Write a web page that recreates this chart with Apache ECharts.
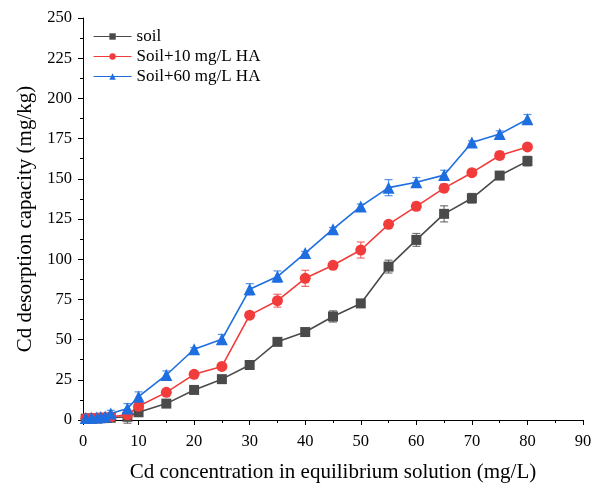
<!DOCTYPE html>
<html><head><meta charset="utf-8">
<script src="https://cdn.jsdelivr.net/npm/echarts@6/dist/echarts.min.js"></script>
<style>html,body{margin:0;padding:0;background:#fff}#c{width:598px;height:484px}</style>
</head><body><div id="c"></div>
<script>
var xValues = [0.5, 1.5, 2.5, 3.2, 4, 5, 8, 10, 15, 20, 25, 30, 35, 40, 45, 50, 55, 60, 65, 70, 75, 80];
var soil    = [0.8, 0.9, 1.0, 1.1, 1.2, 1.4, 2.0, 4.8, 10.2, 18.7, 25.4, 34.2, 48.6, 54.7, 64.4, 72.5, 95.4, 112, 128.2, 137.9, 152, 161];
var soilErr = [0.5, 0.5, 0.5, 0.5, 0.5, 0.5, 4, 1.5, 1, 1, 2, 1, 1, 1.5, 3.5, 1, 4, 4, 5, 3, 1, 3];
var ha10    = [1.0, 1.1, 1.3, 1.4, 1.6, 2.0, 3.2, 8.5, 17.2, 28.4, 33.3, 65.2, 74.2, 88.1, 96.2, 105.7, 121.7, 132.9, 144.2, 153.8, 164.5, 169.8];
var ha10Err = [0.5, 0.5, 0.5, 0.5, 0.5, 0.5, 2, 2, 1, 1, 1, 2, 4, 5, 1, 5, 1, 2.5, 2.5, 1, 2.5, 1.5];
var ha60    = [1.2, 1.4, 1.6, 1.8, 2.2, 4.0, 7.2, 14.5, 28, 44, 50.2, 81.3, 89.2, 103.8, 118.7, 132.8, 144.5, 147.8, 152.3, 172.6, 177.8, 187];
var ha60Err = [0.5, 0.5, 0.5, 0.5, 0.5, 2, 3, 3, 2.5, 1, 3, 3.5, 3.5, 1, 1, 1.5, 5, 3, 3, 1, 2, 3];
var seriesNames = ['soil', 'Soil+10 mg/L HA', 'Soil+60 mg/L HA'];
var xTitle = 'Cd concentration in equilibrium solution (mg/L)';
var yTitle = 'Cd desorption capacity (mg/kg)';

var colors = ['#4a4a4a', '#f23c3c', '#1e6ee0'];
var symbols = ['rect', 'circle', 'triangle'];
var symbolSizes = [10, 11, 12];
var ys = [soil, ha10, ha60];
var errs = [soilErr, ha10Err, ha60Err];
var FONT = 'Liberation Serif';

function pts(y){ return xValues.map(function(x,i){ return [x, y[i]]; }); }
function errData(y,e){ return xValues.map(function(x,i){ return [x, y[i]-e[i], y[i]+e[i]]; }); }

function errRender(color){
  return function(params, api){
    var x = api.value(0);
    var lo = api.coord([x, api.value(1)]);
    var hi = api.coord([x, api.value(2)]);
    var w = 4;
    var st = {stroke: color, lineWidth: 1.2, opacity: 0.75};
    return {type:'group', children:[
      {type:'line', shape:{x1:lo[0], y1:lo[1], x2:hi[0], y2:hi[1]}, style:st},
      {type:'line', shape:{x1:lo[0]-w, y1:lo[1], x2:lo[0]+w, y2:lo[1]}, style:st},
      {type:'line', shape:{x1:hi[0]-w, y1:hi[1], x2:hi[0]+w, y2:hi[1]}, style:st}
    ]};
  };
}

var series = [];
for (var k=0;k<3;k++){
  series.push({
    type:'custom', name: seriesNames[k] + ' err', renderItem: errRender(colors[k]),
    data: errData(ys[k], errs[k]), encode:{x:0, y:[1,2]}, z: 1, silent:true
  });
  series.push({
    type:'line', name: seriesNames[k], data: pts(ys[k]),
    symbol: symbols[k], symbolSize: symbolSizes[k],
    lineStyle:{color: colors[k], width:1.6},
    itemStyle:{color: colors[k]}, z: 3
  });
}

function axisCommon(margin){
  return {
    axisLine:{show:true, lineStyle:{color:'#000', width:1}},
    axisTick:{show:true, inside:false, length:5, lineStyle:{color:'#000'}},
    minorTick:{show:true, splitNumber:2, length:3, lineStyle:{color:'#000'}},
    splitLine:{show:false},
    axisLabel:{color:'#000', fontFamily:FONT, fontSize:16.5, margin:margin},
    nameTextStyle:{color:'#000', fontFamily:FONT, fontSize:21}
  };
}

var chart = echarts.init(document.getElementById('c'), null, {renderer:'canvas'});
chart.setOption({
  animation:false,
  backgroundColor:'#fff',
  grid:{left:83, right:15, top:18, bottom:64, containLabel:false, outerBoundsMode:'none'},
  legend:{
    data: seriesNames, orient:'vertical', left:88, top:23, itemGap:3,
    itemWidth:38, itemHeight:8,
    lineStyle:{width:1.1},
    textStyle:{fontFamily:FONT, fontSize:17, color:'#000'}
  },
  xAxis: Object.assign(axisCommon(13), {
    type:'value', min:0, max:90, interval:10,
    name: xTitle, nameLocation:'middle', nameGap:42
  }),
  yAxis: Object.assign(axisCommon(11), {
    type:'value', min:0, max:250, interval:25,
    name: yTitle, nameLocation:'middle', nameGap:47
  }),
  series: series
});
</script></body></html>
